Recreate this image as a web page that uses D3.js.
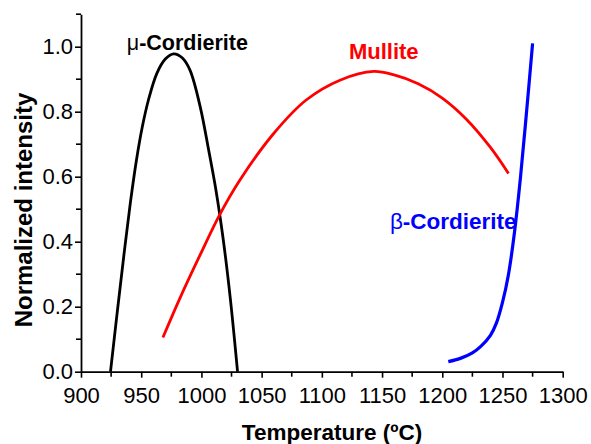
<!DOCTYPE html>
<html>
<head>
<meta charset="utf-8">
<script src="https://cdn.jsdelivr.net/npm/d3@7"></script>
<style>
  html, body { margin: 0; padding: 0; background: #fff; }
  svg { display: block; font-family: "Liberation Sans", Arial, sans-serif; }
</style>
</head>
<body>
<svg id="chart" width="591" height="444"></svg>
<script>
// ---- data ----
const muTemp = [924.5, 930, 935.5, 941, 946, 951, 956, 963, 970, 977, 984, 990.5, 999, 1006, 1012, 1018, 1024, 1030];
const muInt  = [0, 0.18, 0.355, 0.52, 0.65, 0.755, 0.836, 0.918, 0.962, 0.978, 0.966, 0.928, 0.815, 0.682, 0.56, 0.41, 0.225, 0];

const mulTemp = [968, 982, 999, 1015, 1032, 1060, 1087, 1115, 1143, 1160, 1180, 1200, 1220, 1240, 1255];
const mulInt  = [0.105, 0.225, 0.36, 0.482, 0.59, 0.733, 0.836, 0.897, 0.924, 0.913, 0.886, 0.842, 0.777, 0.69, 0.61];

const betaTemp = [1205, 1215, 1225, 1232, 1240, 1245, 1250, 1255, 1260, 1265, 1270, 1275];
const betaInt  = [0.031, 0.041, 0.058, 0.078, 0.112, 0.15, 0.213, 0.3, 0.43, 0.6, 0.8, 1.01];

const xTickValues = [900, 950, 1000, 1050, 1100, 1150, 1200, 1250, 1300];
const yTickValues = [0.0, 0.2, 0.4, 0.6, 0.8, 1.0];

const seriesNames  = ["\u03BC-Cordierite", "Mullite", "\u03B2-Cordierite"];
const seriesColors = ["#000000", "#ff0000", "#0000ff"];
const labelTemp = [938, 1122.5, 1156.5];
const labelInt  = [0.99, 0.962, 0.44];

const xTitle = "Temperature (\u00BAC)";
const yTitle = "Normalized intensity";

// ---- layout ----
const svg = d3.select("#chart");
const m = { left: 81, right: 28.3, top: 14.2, bottom: 72.3 };
const W = 591, H = 444;

const x = d3.scaleLinear().domain([900, 1300]).range([m.left, W - m.right]);
const y = d3.scaleLinear().domain([0, 1.1]).range([H - m.bottom, m.top]);

// minor ticks
const xMinor = d3.range(925, 1300, 50);
const yMinor = [0.1, 0.3, 0.5, 0.7, 0.9, 1.1];

const gx = svg.append("g").attr("transform", `translate(0,${y(0)})`);
gx.call(d3.axisBottom(x).tickValues(xTickValues).tickFormat(d3.format("d")).tickSize(6).tickPadding(10).tickSizeOuter(0));
gx.append("g").selectAll("line").data(xMinor).join("line")
  .attr("x1", d => x(d)).attr("x2", d => x(d)).attr("y1", 0).attr("y2", 5)
  .attr("stroke", "#000").attr("stroke-width", 1.6);

const gy = svg.append("g").attr("transform", `translate(${x(900)},0)`);
gy.call(d3.axisLeft(y).tickValues(yTickValues).tickFormat(d3.format(".1f")).tickSize(6).tickPadding(2).tickSizeOuter(0));
gy.append("g").selectAll("line").data(yMinor).join("line")
  .attr("y1", d => y(d)).attr("y2", d => y(d)).attr("x1", 0).attr("x2", -5)
  .attr("stroke", "#000").attr("stroke-width", 1.6);

[gx, gy].forEach(g => {
  g.select(".domain").attr("stroke", "#000").attr("stroke-width", 1.8);
  g.selectAll(".tick line").attr("stroke", "#000").attr("stroke-width", 1.6);
  g.selectAll(".tick text").attr("fill", "#000").style("font-size", "22px")
    .style("font-family", "'Liberation Sans', Arial, sans-serif");
});

// axis titles
svg.append("text")
  .attr("x", 332).attr("y", 440)
  .attr("text-anchor", "middle")
  .style("font-size", "22.5px").style("font-weight", "bold")
  .text(xTitle);

svg.append("text")
  .attr("transform", `translate(32,210) rotate(-90)`)
  .attr("text-anchor", "middle")
  .style("font-size", "24px").style("font-weight", "bold")
  .text(yTitle);

// curves
const series = [
  { t: muTemp, v: muInt },
  { t: mulTemp, v: mulInt },
  { t: betaTemp, v: betaInt }
];
const line = d3.line().x(d => x(d[0])).y(d => y(d[1])).curve(d3.curveCatmullRom.alpha(0.5));
series.forEach((s, i) => {
  svg.append("path")
    .datum(s.t.map((t, k) => [t, s.v[k]]))
    .attr("fill", "none")
    .attr("stroke", seriesColors[i])
    .attr("stroke-width", i === 2 ? 3.2 : 2.8)
    .attr("stroke-linejoin", "round")
    .attr("d", line);
});

// labels
const labelSizes = [21.5, 22, 22.5];
seriesNames.forEach((name, i) => {
  const t = svg.append("text")
    .attr("x", x(labelTemp[i])).attr("y", y(labelInt[i]))
    .attr("fill", seriesColors[i])
    .style("font-size", labelSizes[i] + "px").style("font-weight", "bold");
  if (i === 1) {
    t.text(name);
  } else {
    t.append("tspan").style("font-weight", "normal").text(name.slice(0, 1));
    t.append("tspan").text(name.slice(1));
  }
});
</script>
</body>
</html>
